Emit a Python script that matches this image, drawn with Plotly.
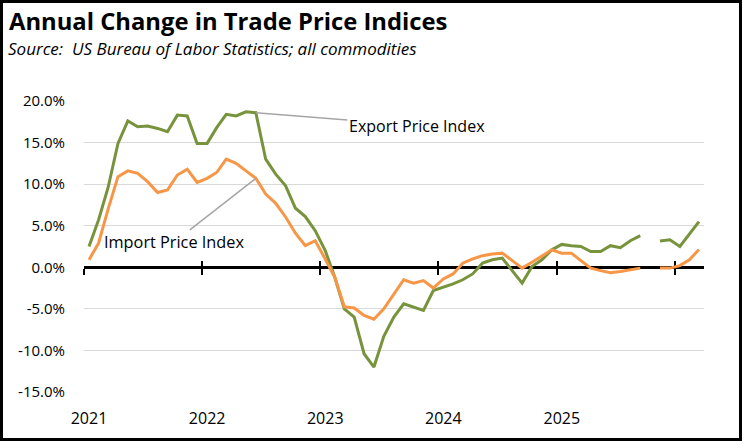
import pandas as pd
import plotly.graph_objects as go

# ---- data ----
start_month = "2021-01-01"
n_months = 63  # Jan 2021 .. Mar 2026

export_idx = [2.5, 5.7, 9.6, 14.9, 17.6, 16.9, 17.0, 16.7, 16.3, 18.3, 18.2, 14.9,
              14.9, 16.8, 18.4, 18.2, 18.7, 18.6, 13.0, 11.2, 9.8, 7.1, 6.1, 4.4,
              2.0, -1.2, -5.0, -6.0, -10.4, -12.0, -8.3, -6.0, -4.4, -4.8, -5.2, -2.8,
              -2.4, -2.0, -1.5, -0.8, 0.5, 0.9, 1.1, -0.4, -1.9, 0.1, 0.9, 2.1,
              2.75, 2.6, 2.5, 1.9, 1.9, 2.6, 2.35, 3.2, 3.8, None, 3.15, 3.3,
              2.5, 4.0, 5.5]
import_idx = [0.9, 2.9, 7.0, 10.9, 11.6, 11.3, 10.3, 9.0, 9.3, 11.1, 11.8, 10.2,
              10.7, 11.4, 13.0, 12.5, 11.6, 10.7, 8.8, 7.7, 6.05, 4.1, 2.6, 3.2,
              1.0, -1.2, -4.75, -4.9, -5.8, -6.25, -5.0, -3.3, -1.5, -1.9, -1.6, -2.5,
              -1.4, -0.8, 0.5, 1.0, 1.4, 1.6, 1.7, 0.8, -0.1, 0.6, 1.3, 2.1,
              1.7, 1.7, 0.8, -0.1, -0.4, -0.65, -0.5, -0.3, -0.1, None, -0.1, -0.1,
              0.2, 0.9, 2.15]
year_labels = ["2021", "2022", "2023", "2024", "2025"]
year_ticks = ["2021", "2022", "2023", "2024", "2025", "2026"]
y_tickvals = [-15, -10, -5, 0, 5, 10, 15, 20]
y_ticktext = ["-15.0%", "-10.0%", "-5.0%", "0.0%", "5.0%", "10.0%", "15.0%", "20.0%"]

# month mid-points (category centres)
m_start = pd.date_range(start_month, periods=n_months + 1, freq="MS")
months = [m_start[i] + (m_start[i + 1] - m_start[i]) / 2 for i in range(n_months)]
x_end = m_start[-1]

GREEN = "#77933C"
ORANGE = "#F79646"
FONT = "Open Sans"

fig = go.Figure()
fig.add_trace(go.Scatter(x=months, y=export_idx, mode="lines", name="Export Price Index",
                         line=dict(color=GREEN, width=3), connectgaps=False))
fig.add_trace(go.Scatter(x=months, y=import_idx, mode="lines", name="Import Price Index",
                         line=dict(color=ORANGE, width=3), connectgaps=False))

W, H = 742, 441
L, R, T, B = 84, 38, 101, 49
pw, ph = W - L - R, H - T - B

def px_x(p):
    return (p - L) / pw

def px_y(p):
    return (H - B - p) / ph

label_pos = [pd.Timestamp(f"{y}-01-01") + (pd.Timestamp(f"{y}-02-01") - pd.Timestamp(f"{y}-01-01")) / 2
             for y in year_labels]
tick_pos = [pd.Timestamp(f"{y}-01-01") for y in year_ticks]

zero_pos = (0 - y_tickvals[0]) / (y_tickvals[-1] - y_tickvals[0])

fig.update_layout(
    width=W, height=H,
    margin=dict(l=L, r=R, t=T, b=B),
    paper_bgcolor="white", plot_bgcolor="white",
    showlegend=False,
    font=dict(family=FONT, size=14, color="#000000"),
    xaxis=dict(range=[m_start[0], x_end], type="date",
               tickvals=label_pos, ticktext=year_labels,
               ticks="outside", ticklen=12, tickcolor="rgba(0,0,0,0)",
               showgrid=False, showline=False, zeroline=False,
               tickfont=dict(size=16)),
    xaxis2=dict(overlaying="x", matches="x", anchor="free", position=zero_pos,
                type="date", range=[m_start[0], x_end],
                tickvals=tick_pos, showticklabels=False,
                ticks="outside", ticklen=6, tickwidth=2, tickcolor="black",
                showline=True, linecolor="black", linewidth=2.5,
                showgrid=False, zeroline=False, layer="below traces"),
    xaxis3=dict(overlaying="x", matches="x", anchor="free", position=zero_pos,
                type="date", range=[m_start[0], x_end],
                tickvals=tick_pos, showticklabels=False,
                ticks="inside", ticklen=6, tickwidth=2, tickcolor="black",
                showline=False, showgrid=False, zeroline=False, layer="below traces"),
    yaxis=dict(range=[y_tickvals[0], y_tickvals[-1]], tickvals=y_tickvals, ticktext=y_ticktext,
               showgrid=True, gridcolor="#D9D9D9", gridwidth=1.3, zeroline=False,
               showline=False, ticks="outside", ticklen=15, tickcolor="rgba(0,0,0,0)",
               tickfont=dict(size=15)),
)

# empty helper traces so overlay axes render
fig.add_trace(go.Scatter(x=[], y=[], xaxis="x2", showlegend=False, hoverinfo="skip"))
fig.add_trace(go.Scatter(x=[], y=[], xaxis="x3", showlegend=False, hoverinfo="skip"))

# titles
fig.add_annotation(text="<b>Annual Change in Trade Price Indices</b>", xref="paper", yref="paper",
                   x=px_x(7), y=px_y(21), xanchor="left", yanchor="middle", showarrow=False,
                   font=dict(family=FONT, size=23.8, color="#000000"))
fig.add_annotation(text="<i>Source:  US Bureau of Labor Statistics; all commodities</i>",
                   xref="paper", yref="paper", x=px_x(6), y=px_y(49), xanchor="left",
                   yanchor="middle", showarrow=False,
                   font=dict(family=FONT, size=17, color="#000000"))

# series labels with leader lines
pk = 17
fig.add_annotation(text="Export Price Index", x=months[pk], y=export_idx[pk], xref="x", yref="y",
                   showarrow=True, arrowhead=0, arrowwidth=1.5, arrowcolor="#A6A6A6",
                   ax=161, ay=13, font=dict(family=FONT, size=16, color="#000000"))
fig.add_annotation(text="Import Price Index", x=months[pk], y=import_idx[pk], xref="x", yref="y",
                   showarrow=True, arrowhead=0, arrowwidth=1.5, arrowcolor="#A6A6A6",
                   ax=-82, ay=64, font=dict(family=FONT, size=16.3, color="#000000"))

# outer border
fig.add_shape(type="rect", xref="paper", yref="paper",
              x0=px_x(1.5), x1=px_x(W - 1.5), y0=px_y(H - 1.5), y1=px_y(1.5),
              line=dict(color="black", width=3), fillcolor="rgba(0,0,0,0)", layer="above")

fig.write_html("out.html", config={"displayModeBar": False},
               post_script="document.body.style.margin='0px';document.body.style.overflow='hidden';")
